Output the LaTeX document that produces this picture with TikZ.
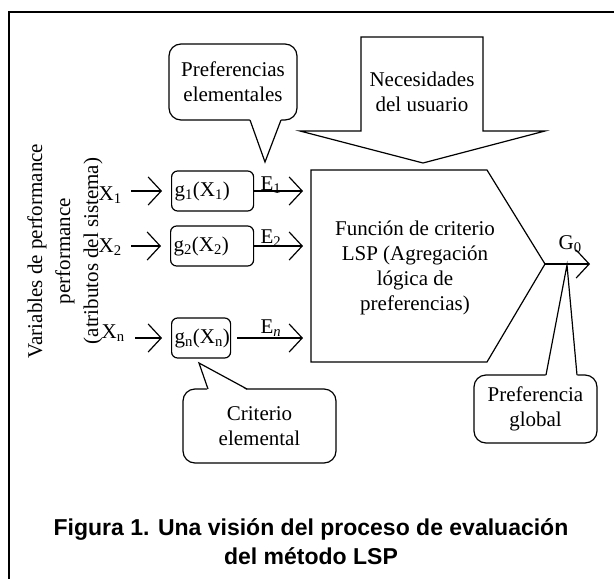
\documentclass[tikz,border=0pt]{standalone}
\usepackage{fontspec}
\setmainfont{Liberation Serif}
\newfontfamily\captionsans{Liberation Sans}
\usepackage{tikz}
\usetikzlibrary{arrows.meta,calc}

\begin{document}
\begin{tikzpicture}[x=1pt,y=-1pt,line width=1.2pt,
    txt/.style={font=\fontsize{21}{25}\selectfont, inner sep=0pt, align=center},
    gbox/.style={draw, rounded corners=6pt, anchor=west, minimum height=40pt,
      inner xsep=3pt, inner ysep=0pt, align=left, font=\fontsize{21}{25}\selectfont},
    callbox/.style={txt, draw, fill=white, rounded corners=12pt},
    chev/.style={-{Straight Barb[length=13pt,width=28pt]}}]
  \fill[white] (0,0) rectangle (614,579);
  \useasboundingbox (0,0) rectangle (614,579);
  \draw (9,579) -- (9,12) -- (614,12);

  \node[txt, rotate=90, font=\fontsize{21}{28}\selectfont] (vars) at (65,251)
    {Variables de performance\\performance\\(atributos del sistema)};

  \node[txt, anchor=base west] (x1) at (98,200) {X\textsubscript{1}};
  \node[txt, anchor=base west] (x2) at (98,252) {X\textsubscript{2}};
  \node[txt, anchor=base west] (xn) at (101,338) {X\textsubscript{n}};

  \node[gbox, text width=76pt] (g1) at (171,191) {g\textsubscript{1}(X\textsubscript{1})};
  \node[gbox, text width=77pt] (g2) at (170,246) {g\textsubscript{2}(X\textsubscript{2})};
  \node[gbox, text width=53pt] (gn) at (171,338) {g\textsubscript{n}(X\textsubscript{n})};

  \draw[chev, shorten <=9pt, shorten >=9pt] (x1.east |- g1.west) -- (g1.west);
  \draw[chev, shorten <=9pt, shorten >=9pt] (x2.east |- g2.west) -- (g2.west);
  \draw[chev, shorten <=10pt, shorten >=9pt] (xn.east |- gn.west) -- (gn.west);

  \coordinate (in1) at (303,191);
  \coordinate (in2) at (303,246);
  \coordinate (inn) at (303,338);
  \draw[chev] (g1.east) -- (in1);
  \draw[chev] (g2.east) -- (in2);
  \draw[chev, shorten <=6pt] (gn.east) -- (inn);
  \node[txt, anchor=base west] (e1) at (260,190) {E\textsubscript{1}};
  \node[txt, anchor=base west] (e2) at (260,243) {E\textsubscript{2}};
  \node[txt, anchor=base west] (en) at (260,333) {E\textsubscript{\textit{n}}};

  % criterion function
  \coordinate (pout) at (545,264);
  \draw (311,170) -- (487,170) -- (pout) -- (487,362) -- (311,362) -- cycle;
  \node[txt] (lsp) at (415,268)
    {Función de criterio\\LSP (Agregación\\lógica de\\preferencias)};
  \coordinate (gout) at (590,264);
  \draw[chev] (pout) -- (gout);
  \node[txt, anchor=base west] (g0) at (558,249) {G\textsubscript{0}};

  % user needs
  \draw (361,37) -- (483,37) -- (483,131) -- (545,131) -- (423,163)
    -- (300,131) -- (361,131) -- cycle;
  \node[txt] (needs) at (422,92) {Necesidades\\del usuario};

  % callouts
  \node[callbox, minimum width=128pt, minimum height=76pt] (prefel) at (233,82)
    {Preferencias\\elementales};
  \fill[white] (249.5,118.5) -- (265,162) -- (281.5,118.5) -- cycle;
  \draw (250,120) -- (265,162) -- (281,120);

  \node[callbox, minimum width=153pt, minimum height=74pt] (crit) at (259.5,426)
    {Criterio\\elemental};
  \fill[white] (207.5,390.5) -- (199,363) -- (247.5,390.5) -- cycle;
  \draw (208,389) -- (199,363) -- (247,389);

  \node[callbox, minimum width=123pt, minimum height=68pt] (prefgl) at (535.5,409)
    {Preferencia\\global};
  \fill[white] (545.5,376.5) -- (567,265) -- (577.5,376.5) -- cycle;
  \draw (546,375) -- (567,265) -- (577,375);

  \node[font=\captionsans\bfseries\fontsize{23}{29}\selectfont, align=center, inner sep=0pt]
    (caption) at (311,542) {Figura 1. Una visión del proceso de evaluación\\del método LSP};
\end{tikzpicture}
\end{document}
